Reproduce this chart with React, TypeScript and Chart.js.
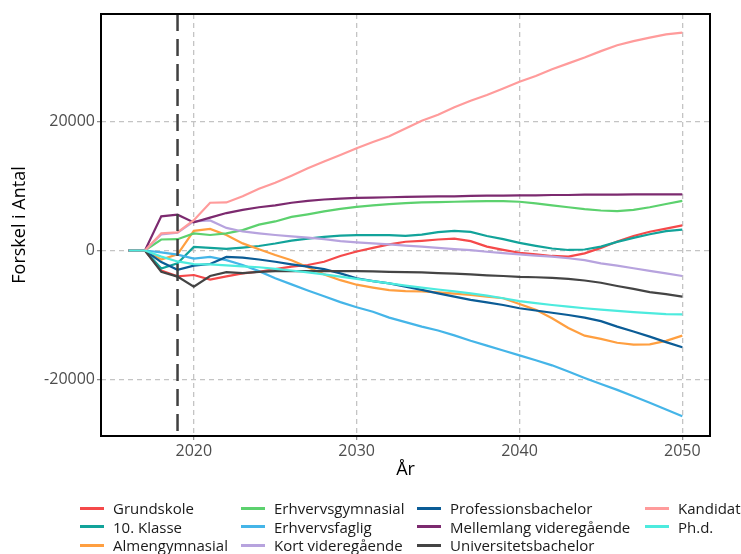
import React, { useEffect, useRef } from 'react';
import { Chart, registerables } from 'chart.js';

Chart.register(...registerables);

const years = [2016, 2017, 2018, 2019, 2020, 2021, 2022, 2023, 2024, 2025, 2026, 2027, 2028, 2029, 2030, 2031, 2032, 2033, 2034, 2035, 2036, 2037, 2038, 2039, 2040, 2041, 2042, 2043, 2044, 2045, 2046, 2047, 2048, 2049, 2050];

const xTicks = [2020, 2030, 2040, 2050];
const yTicks = [-20000, 0, 20000];
const cutoffYear = 2019;
const xTitle = 'År';
const yTitle = 'Forskel i Antal';

const seriesNames = [
  'Grundskole',
  '10. Klasse',
  'Almengymnasial',
  'Erhvervsgymnasial',
  'Erhvervsfaglig',
  'Kort videregående',
  'Professionsbachelor',
  'Mellemlang videregående',
  'Universitetsbachelor',
  'Kandidat',
  'Ph.d.',
];

const seriesColors = [
  '#F5494A',
  '#12A39A',
  '#FF9F40',
  '#5CD16E',
  '#45B5E8',
  '#B7A3DE',
  '#0B5C96',
  '#7C2A6F',
  '#444444',
  '#FF9B9B',
  '#4DEBDE',
];

const grundskole = [0, 0, -3100, -4000, -3800, -4500, -4000, -3550, -3300, -2900, -2500, -2250, -1750, -850, -150, 400, 950, 1350, 1500, 1700, 1850, 1450, 600, 100, -350, -600, -850, -950, -450, 400, 1400, 2250, 2900, 3400, 3900];
const klasse10 = [0, 0, -2800, -2000, 550, 400, 250, 450, 700, 1080, 1540, 1850, 2100, 2300, 2370, 2370, 2370, 2270, 2450, 2850, 3040, 2880, 2250, 1750, 1180, 720, 310, 80, 150, 600, 1340, 1960, 2520, 2990, 3240];
const almengymnasial = [0, 0, -1400, -600, 3050, 3350, 2400, 1100, 200, -700, -1500, -2600, -3700, -4600, -5300, -5750, -6150, -6300, -6350, -6500, -6700, -6900, -7150, -7400, -8300, -9200, -10500, -12000, -13200, -13700, -14300, -14600, -14550, -14000, -13200];
const erhvervsgymnasial = [0, 0, 1700, 1750, 2650, 2400, 2650, 3150, 4000, 4500, 5200, 5600, 6050, 6450, 6750, 7000, 7200, 7350, 7450, 7500, 7550, 7600, 7650, 7650, 7550, 7300, 7000, 6700, 6400, 6200, 6100, 6300, 6700, 7200, 7700];
const erhvervsfaglig = [0, 0, -300, -650, -1250, -1000, -1500, -2250, -3200, -4300, -5250, -6200, -7100, -8000, -8800, -9500, -10400, -11100, -11800, -12400, -13150, -14000, -14750, -15500, -16250, -17000, -17800, -18750, -19750, -20700, -21600, -22600, -23600, -24650, -25700];
const kortVideregaaende = [0, 0, 2500, 2750, 4500, 4650, 3500, 2950, 2650, 2400, 2200, 2000, 1750, 1450, 1250, 1100, 950, 750, 600, 400, 200, 50, -200, -400, -600, -800, -950, -1200, -1500, -2000, -2350, -2750, -3150, -3550, -3950];
const professionsbachelor = [0, 0, -1800, -3000, -2350, -2100, -1000, -1100, -1400, -1750, -2150, -2500, -2900, -3550, -4300, -4750, -5100, -5600, -6100, -6650, -7150, -7650, -8050, -8450, -8950, -9300, -9650, -10000, -10400, -10950, -11800, -12550, -13350, -14200, -15000];
const mellemlang = [0, 0, 5300, 5550, 4350, 5100, 5800, 6300, 6700, 7000, 7400, 7700, 7900, 8050, 8150, 8200, 8250, 8300, 8350, 8400, 8400, 8450, 8500, 8500, 8550, 8550, 8600, 8600, 8650, 8650, 8650, 8700, 8700, 8700, 8700];
const universitetsbachelor = [0, 0, -3300, -4050, -5600, -3950, -3350, -3500, -3300, -3200, -3200, -3200, -3200, -3200, -3200, -3250, -3300, -3350, -3400, -3500, -3600, -3700, -3850, -3950, -4100, -4150, -4250, -4400, -4650, -5000, -5500, -5950, -6450, -6750, -7150];
const kandidat = [0, 0, 2650, 2800, 4700, 7400, 7450, 8400, 9570, 10500, 11600, 12750, 13800, 14800, 15850, 16800, 17700, 18900, 20100, 21050, 22200, 23200, 24100, 25100, 26150, 27050, 28100, 29000, 29900, 30900, 31800, 32450, 33000, 33500, 33750];
const phd = [0, 0, -950, -1700, -2100, -2150, -2300, -2450, -2600, -2850, -3100, -3400, -3700, -4050, -4400, -4750, -5100, -5450, -5750, -6050, -6350, -6650, -7000, -7400, -7850, -8150, -8450, -8700, -8950, -9150, -9350, -9550, -9700, -9850, -9900];

const seriesValues = [grundskole, klasse10, almengymnasial, erhvervsgymnasial, erhvervsfaglig, kortVideregaaende, professionsbachelor, mellemlang, universitetsbachelor, kandidat, phd];

const FONT = '"Open Sans", "DejaVu Sans", sans-serif';

const framePlugin = {
  id: 'framePlugin',
  afterDatasetsDraw(chart: any) {
    const { ctx, chartArea, scales } = chart;
    const x = scales.x.getPixelForValue(cutoffYear);
    ctx.save();
    ctx.beginPath();
    ctx.rect(chartArea.left, chartArea.top, chartArea.right - chartArea.left, chartArea.bottom - chartArea.top);
    ctx.clip();
    ctx.strokeStyle = '#404040';
    ctx.lineWidth = 2.5;
    ctx.setLineDash([17, 8]);
    ctx.beginPath();
    ctx.moveTo(x, chartArea.top);
    ctx.lineTo(x, chartArea.bottom);
    ctx.stroke();
    ctx.restore();
  },
  afterDraw(chart: any) {
    const { ctx, chartArea } = chart;
    ctx.save();
    ctx.strokeStyle = '#000000';
    ctx.lineWidth = 2;
    ctx.setLineDash([]);
    ctx.strokeRect(chartArea.left, chartArea.top, chartArea.right - chartArea.left, chartArea.bottom - chartArea.top);
    ctx.restore();
  },
};

export default function App() {
  const canvasRef = useRef<HTMLCanvasElement | null>(null);

  useEffect(() => {
    if (!canvasRef.current) return;
    const datasets = seriesNames.map((name, i) => ({
      label: name,
      data: years.map((yr, j) => ({ x: yr, y: seriesValues[i][j] })),
      borderColor: seriesColors[i],
      backgroundColor: seriesColors[i],
      borderWidth: 2.2,
      pointRadius: 0,
      tension: 0,
      fill: false,
      order: -i,
    }));
    const chart = new Chart(canvasRef.current, {
      type: 'line',
      data: { datasets },
      options: {
        animation: false,
        responsive: false,
        maintainAspectRatio: false,
        layout: { padding: { left: 0, right: 31, top: 14, bottom: 73 } },
        plugins: { legend: { display: false }, tooltip: { enabled: false } },
        scales: {
          x: {
            type: 'linear',
            min: 2014.3,
            max: 2051.7,
            afterBuildTicks: (axis: any) => {
              axis.ticks = xTicks.map((v) => ({ value: v }));
            },
            afterFit: (axis: any) => {
              axis.height = 45;
            },
            ticks: {
              color: '#4d4d4d',
              font: { family: FONT, size: 16 },
              padding: 2,
              maxRotation: 0,
              callback: (v: any) => String(v),
            },
            grid: {
              color: '#c4c4c4',
              lineWidth: 1.3,
              tickLength: 4,
              tickColor: '#888888',
              tickWidth: 1.2,
            },
            border: { display: false, dash: [5, 4] },
            title: {
              display: true,
              text: xTitle,
              color: '#000000',
              font: { family: FONT, size: 18 },
              padding: { top: 0, bottom: 0 },
            },
          },
          y: {
            type: 'linear',
            min: -28750,
            max: 36650,
            afterBuildTicks: (axis: any) => {
              axis.ticks = yTicks.map((v) => ({ value: v }));
            },
            afterFit: (axis: any) => {
              axis.width = 101;
            },
            ticks: {
              color: '#4d4d4d',
              font: { family: FONT, size: 16 },
              padding: 2,
              callback: (v: any) => String(v),
            },
            grid: {
              color: '#c4c4c4',
              lineWidth: 1.3,
              tickLength: 4,
              tickColor: '#888888',
              tickWidth: 1.2,
            },
            border: { display: false, dash: [5, 4] },
            title: {
              display: true,
              text: yTitle,
              color: '#000000',
              font: { family: FONT, size: 18 },
              padding: { top: 9, bottom: 0 },
            },
          },
        },
      },
      plugins: [framePlugin],
    });
    return () => chart.destroy();
  }, []);

  // legend arranged column-major in 3 rows
  const rows = 3;
  const colWidths = [161, 176, 228, 100];

  return (
    <div style={{ position: 'absolute', left: 0, top: 0, width: 741, height: 554, background: '#ffffff', overflow: 'hidden' }}>
      <canvas ref={canvasRef} width={741} height={554} style={{ position: 'absolute', left: 0, top: 0, width: 741, height: 554 }} />
      <div
        style={{
          position: 'absolute',
          left: 80,
          top: 499,
          display: 'grid',
          gridAutoFlow: 'column',
          gridTemplateRows: `repeat(${rows}, 18.5px)`,
          gridTemplateColumns: colWidths.map((w) => `${w}px`).join(' '),
          fontFamily: FONT,
          fontSize: 15,
          color: '#1a1a1a',
        }}
      >
        {seriesNames.map((name, i) => (
          <div key={name} style={{ display: 'flex', alignItems: 'center', whiteSpace: 'nowrap', height: 18.5 }}>
            <span style={{ display: 'inline-block', flexShrink: 0, width: 24, height: 3, background: seriesColors[i], marginRight: 9 }} />
            <span style={{ lineHeight: '18px', flexShrink: 0 }}>{name}</span>
          </div>
        ))}
      </div>
    </div>
  );
}
